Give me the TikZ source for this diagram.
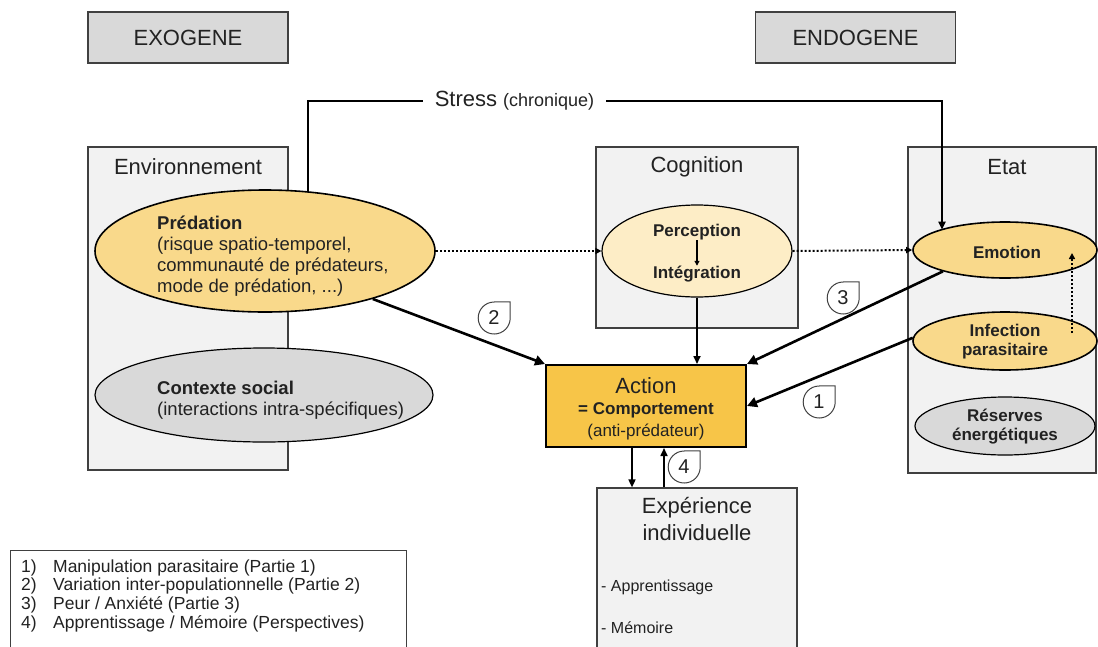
\documentclass[tikz,border=0pt]{standalone}
\usepackage{fontspec}
\setmainfont{Liberation Sans}
\usetikzlibrary{shapes.geometric,arrows.meta,calc}
\definecolor{yelc}{HTML}{F9D98B}
\definecolor{yellc}{HTML}{FDEDC6}
\definecolor{actc}{HTML}{F7C548}
\definecolor{grayc}{HTML}{D9D9D9}
\definecolor{panelc}{HTML}{F2F2F2}
\definecolor{edgec}{HTML}{404040}
\definecolor{txtc}{HTML}{222222}
\newcommand\szT{\fontsize{22}{26}\selectfont}
\newcommand\szM{\fontsize{18.5}{21}\selectfont}
\newcommand\szS{\fontsize{17}{19}\selectfont}
\newcommand\szC{\fontsize{18}{21}\selectfont}
\newcommand\szN{\fontsize{20}{22}\selectfont}
\newcommand\szL{\fontsize{17.5}{18.6}\selectfont}
\begin{document}
\begin{tikzpicture}[x=1pt,y=1pt,
 panel/.style={draw=edgec, line width=1.2pt, fill=panelc, inner sep=0},
 hdr/.style={draw=edgec, line width=1.2pt, fill=grayc, minimum width=200pt, minimum height=51pt, inner sep=0, font=\szT, text=txtc},
 ell/.style={ellipse, draw=black, line width=1.6pt, inner sep=0},
 txt/.style={inner sep=0, text=txtc},
 arr/.style={line width=2.6pt, -{Triangle[length=10pt,width=10pt]}},
 thinarr/.style={line width=1.6pt, -{Triangle[length=8pt,width=7pt]}},
 dots/.style={line width=2pt, dash pattern=on 2pt off 2pt, -{Triangle[length=6pt,width=6pt]}},
 tag/.style={circle, minimum size=32pt, inner sep=0, font=\szN, text=txtc},
 tagframe/.style={draw=edgec, line width=1pt},
]
\useasboundingbox (0,0) rectangle (1098,-646);
\clip (0,0) rectangle (1098,-646);

% headers
\node[hdr] (exo) at (188,-37.5) {EXOGENE};
\node[hdr] (endo) at (855.5,-37.5) {ENDOGENE};

% panels
\node[panel, minimum width=200pt, minimum height=323pt] (envP) at (188,-308.5) {};
\node[panel, minimum width=202pt, minimum height=181pt] (cogP) at (697,-237.5) {};
\node[panel, minimum width=188pt, minimum height=326pt] (etatP) at (1002,-310) {};
\node[panel, minimum width=200pt, minimum height=182pt] (expP) at (697,-579) {};
\node[draw=edgec, line width=1pt, fill=white, minimum width=396pt, minimum height=120pt, inner sep=0] (legBox) at (208,-610) {};

\node[txt, font=\szT] (envT) at (188,-167) {Environnement};
\node[txt, font=\szT] (cogT) at (697,-167) {Cognition};
\node[txt, font=\szT] (etatT) at (1007,-167) {Etat};

% ellipses
\node[ell, fill=yelc, minimum width=340pt, minimum height=122pt] (pred) at (265,-251) {};
\node[ell, fill=grayc, line width=1.2pt, minimum width=338pt, minimum height=94pt] (ctx) at (264,-395) {};
\node[ell, fill=yellc, line width=1.2pt, minimum width=190pt, minimum height=92pt] (perc) at (697,-251) {};
\node[ell, fill=yelc, minimum width=184pt, minimum height=56pt] (emo) at (1005,-250) {};
\node[ell, fill=yelc, minimum width=184pt, minimum height=58pt] (inf) at (1005,-341) {};
\node[ell, fill=grayc, line width=1.2pt, minimum width=180pt, minimum height=58pt] (res) at (1005,-426) {};

% action
\node[draw=black, line width=2pt, fill=actc, minimum width=200pt, minimum height=82pt, inner sep=0] (act) at (646,-406) {};

% texts
\node[txt, font=\szM, align=left, anchor=north west] (predT) at (157,-216) {\textbf{Prédation}\\(risque spatio-temporel,\\communauté de prédateurs,\\mode de prédation, ...)};
\node[txt, font=\szM, align=left, anchor=north west] (ctxT) at (157,-381) {\textbf{Contexte social}\\(interactions intra-spécifiques)};
\node[txt, font=\szS\bfseries] (percT) at (697,-232) {Perception};
\node[txt, font=\szS\bfseries] (integT) at (697,-274) {Intégration};
\node[txt, font=\szS\bfseries] (emoT) at (1007,-252) {Emotion};
\node[txt, font=\szS\bfseries, align=center] (infT) at (1005,-342) {Infection\\parasitaire};
\node[txt, font=\szS\bfseries, align=center] (resT) at (1005,-427) {Réserves\\énergétiques};
\node[txt, font=\szT] (actT1) at (646,-386) {Action};
\node[txt, font=\szS\bfseries] (actT2) at (646,-410) {= Comportement};
\node[txt, font=\szS] (actT3) at (646,-432) {(anti-prédateur)};
\node[txt, font=\szT] (expT1) at (697,-508) {Expérience};
\node[txt, font=\szT] (expT2) at (697,-533) {individuelle};
\node[txt, font=\fontsize{16}{18}\selectfont, anchor=west] (expT3) at (601,-587) {- Apprentissage};
\node[txt, font=\fontsize{16}{18}\selectfont, anchor=west] (expT4) at (601,-628) {- Mémoire};
\node[txt, font=\szL, anchor=north west, align=left] (legT) at (21,-559.5) {\makebox[32pt][l]{1)}Manipulation parasitaire (Partie 1)\\\makebox[32pt][l]{2)}Variation inter-populationnelle (Partie 2)\\\makebox[32pt][l]{3)}Peur / Anxiété (Partie 3)\\\makebox[32pt][l]{4)}Apprentissage / Mémoire (Perspectives)};

% stress
\node[txt, font=\szT, inner xsep=12pt] (stress) at (514.5,-101) {Stress {\szC (chronique)}};
\coordinate (stressA) at (308,-191);
\coordinate (emoTop) at (942,-229.6);
\draw[line width=2pt] (stressA) |- (stress.west);
\draw[line width=2pt, -{Triangle[length=8pt,width=7pt]}] (stress.east) -| (emoTop);

% dotted
\draw[dots] (pred.east) -- (perc.west);
\draw[dots] (perc.east) -- (emo.west);
\coordinate (infUp) at (1072,-333);
\coordinate (emoIn) at (1072,-253);
\draw[dots] (infUp) -- (emoIn);
\draw[line width=1.2pt, -{Triangle[length=5pt,width=5pt]}] (percT.south) -- (integT.north);

% main arrows
\draw[arr] (pred.-24) -- (act.north west);
\draw[arr] (emo.199) -- (act.north east);
\draw[arr] (inf.178) -- (act.east);
\draw[thinarr] (perc.south) -- (perc.south |- act.north);
\draw[thinarr] ([xshift=-14pt]act.south) -- ([xshift=-65pt]expP.north);
\draw[thinarr] ([xshift=-33pt]expP.north) -- ([xshift=18pt]act.south);

% tags
\node[tag] (t2) at (494,-318) {2};
\node[tag] (t3) at (843,-298) {3};
\node[tag] (t1) at (819,-402) {1};
\node[tag] (t4) at (684,-467) {4};
\foreach \t in {t1,t2,t3,t4}{
  \draw[tagframe] (\t.north) -| (\t.east) arc[start angle=0, end angle=-270, radius=16pt];
}
\end{tikzpicture}
\end{document}
